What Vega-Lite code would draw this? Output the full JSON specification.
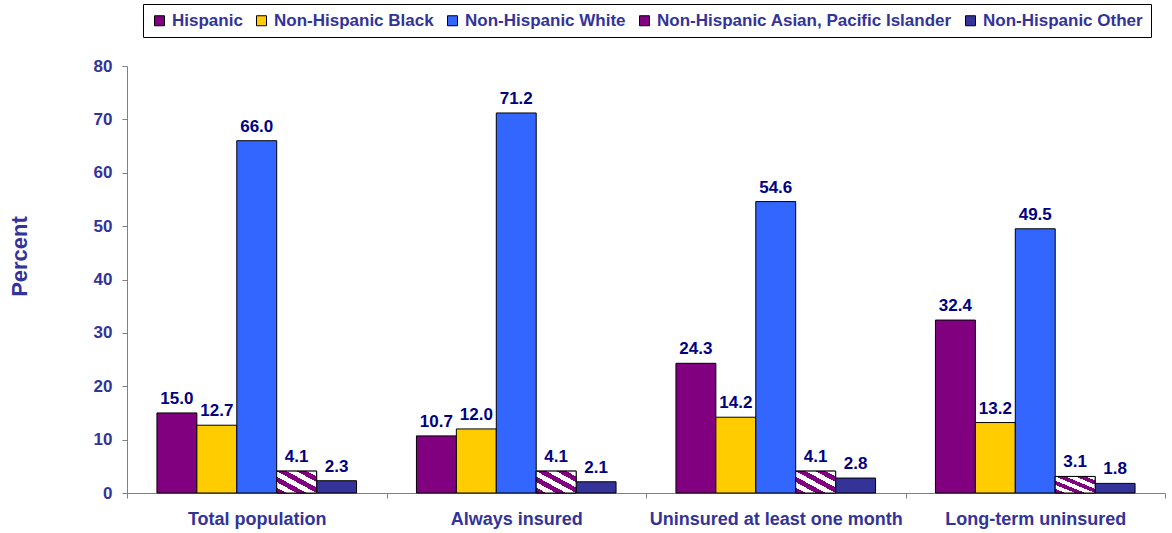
{
  "$schema": "https://vega.github.io/schema/vega-lite/v6.json",
  "width": 1038,
  "height": 427,
  "autosize": {"type": "none"},
  "padding": {"left": 127, "top": 66, "right": 7, "bottom": 40},
  "background": "white",
  "config": {"view": {"stroke": null}, "font": "Liberation Sans"},
  "data": {"values": [
    {"category": "Total population", "group": "Hispanic", "value": 15.0},
    {"category": "Total population", "group": "Non-Hispanic Black", "value": 12.7},
    {"category": "Total population", "group": "Non-Hispanic White", "value": 66.0},
    {"category": "Total population", "group": "Non-Hispanic Asian, Pacific Islander", "value": 4.1},
    {"category": "Total population", "group": "Non-Hispanic Other", "value": 2.3},
    {"category": "Always insured", "group": "Hispanic", "value": 10.7},
    {"category": "Always insured", "group": "Non-Hispanic Black", "value": 12.0},
    {"category": "Always insured", "group": "Non-Hispanic White", "value": 71.2},
    {"category": "Always insured", "group": "Non-Hispanic Asian, Pacific Islander", "value": 4.1},
    {"category": "Always insured", "group": "Non-Hispanic Other", "value": 2.1},
    {"category": "Uninsured at least one month", "group": "Hispanic", "value": 24.3},
    {"category": "Uninsured at least one month", "group": "Non-Hispanic Black", "value": 14.2},
    {"category": "Uninsured at least one month", "group": "Non-Hispanic White", "value": 54.6},
    {"category": "Uninsured at least one month", "group": "Non-Hispanic Asian, Pacific Islander", "value": 4.1},
    {"category": "Uninsured at least one month", "group": "Non-Hispanic Other", "value": 2.8},
    {"category": "Long-term uninsured", "group": "Hispanic", "value": 32.4},
    {"category": "Long-term uninsured", "group": "Non-Hispanic Black", "value": 13.2},
    {"category": "Long-term uninsured", "group": "Non-Hispanic White", "value": 49.5},
    {"category": "Long-term uninsured", "group": "Non-Hispanic Asian, Pacific Islander", "value": 3.1},
    {"category": "Long-term uninsured", "group": "Non-Hispanic Other", "value": 1.8}
  ]},
  "encoding": {
    "x": {
      "field": "category", "type": "nominal",
      "sort": ["Total population", "Always insured", "Uninsured at least one month", "Long-term uninsured"],
      "scale": {"paddingInner": 0, "paddingOuter": 0},
      "axis": {
        "title": null, "labelAngle": 0, "labelFont": "Liberation Sans", "labelFontWeight": "bold",
        "labelFontSize": 18, "labelColor": "#333399", "domainColor": "#808080", "tickColor": "#808080",
        "tickBand": "extent", "tickSize": 5, "labelPadding": 12, "labelLimit": 400
      }
    },
    "xOffset": {
      "field": "group", "type": "nominal",
      "scale": {
        "domain": ["Hispanic", "Non-Hispanic Black", "Non-Hispanic White", "Non-Hispanic Asian, Pacific Islander", "Non-Hispanic Other"],
        "paddingInner": 0, "paddingOuter": 0.75
      }
    },
    "y": {
      "field": "value", "type": "quantitative",
      "scale": {"domain": [0, 80]},
      "axis": {
        "title": "Percent", "values": [0, 10, 20, 30, 40, 50, 60, 70, 80], "grid": false,
        "labelFont": "Liberation Sans", "labelFontWeight": "bold", "labelFontSize": 17, "labelColor": "#333399",
        "domainColor": "#808080", "tickColor": "#808080", "tickSize": 5, "labelPadding": 10,
        "titleFont": "Liberation Sans", "titleFontWeight": "bold", "titleFontSize": 22, "titleColor": "#333399",
        "titleX": -108, "titleY": 190, "titleAngle": 270, "titleAlign": "center", "titleBaseline": "middle"
      }
    }
  },
  "layer": [
    {
      "mark": {"type": "bar", "stroke": "black", "strokeWidth": 1},
      "encoding": {
        "color": {
          "field": "group", "type": "nominal",
          "scale": {
            "domain": ["Hispanic", "Non-Hispanic Black", "Non-Hispanic White", "Non-Hispanic Asian, Pacific Islander", "Non-Hispanic Other"],
            "range": ["#800080", "#FFCC00", "#3366FF", "#800080", "#333399"]
          },
          "legend": {
            "title": null, "orient": "none", "legendX": 16, "legendY": -62, "direction": "horizontal", "columns": 5,
            "strokeColor": "black", "fillColor": "white", "padding": 8,
            "symbolType": "square", "symbolSize": 100, "symbolStrokeColor": "black", "symbolStrokeWidth": 1, "symbolOpacity": 1,
            "labelFont": "Liberation Sans", "labelFontWeight": "bold", "labelFontSize": 17, "labelColor": "#333399",
            "columnPadding": 10, "labelOffset": 4, "labelLimit": 500
          }
        }
      }
    },
    {
      "transform": [{"filter": "datum.group === 'Non-Hispanic Asian, Pacific Islander'"}],
      "mark": {
        "type": "bar", "stroke": "black", "strokeWidth": 1,
        "fill": {
          "gradient": "linear", "x1": 0, "y1": 1, "x2": 1, "y2": 0,
          "stops": [
            {"offset": 0, "color": "#800080"}, {"offset": 0.125, "color": "#800080"},
            {"offset": 0.125, "color": "#ffffff"}, {"offset": 0.25, "color": "#ffffff"},
            {"offset": 0.25, "color": "#800080"}, {"offset": 0.375, "color": "#800080"},
            {"offset": 0.375, "color": "#ffffff"}, {"offset": 0.5, "color": "#ffffff"},
            {"offset": 0.5, "color": "#800080"}, {"offset": 0.625, "color": "#800080"},
            {"offset": 0.625, "color": "#ffffff"}, {"offset": 0.75, "color": "#ffffff"},
            {"offset": 0.75, "color": "#800080"}, {"offset": 0.875, "color": "#800080"},
            {"offset": 0.875, "color": "#ffffff"}, {"offset": 1, "color": "#ffffff"}
          ]
        }
      }
    },
    {
      "mark": {"type": "text", "baseline": "bottom", "dy": -5, "font": "Liberation Sans", "fontWeight": "bold", "fontSize": 17, "color": "#000080"},
      "encoding": {"text": {"field": "value", "type": "quantitative", "format": ".1f"}}
    }
  ]
}
